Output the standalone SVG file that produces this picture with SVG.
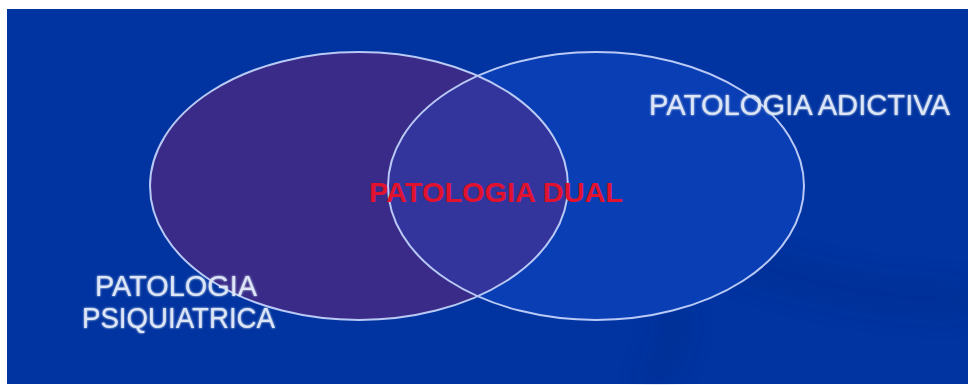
<svg xmlns="http://www.w3.org/2000/svg" width="968" height="385" viewBox="0 0 968 385">
<style>
.outline{fill:none;stroke:#b9c9f5;stroke-width:2}
.lbl{font-family:"Liberation Sans",Arial,sans-serif;font-size:29px;fill:#dce6f6}
.dual{font-family:"Liberation Sans",Arial,sans-serif;font-size:28px;font-weight:bold;fill:#e0122e}
</style>
<defs>
<clipPath id="clipLeft"><ellipse cx="359" cy="186" rx="209" ry="134"/></clipPath>
<filter id="soft" x="-20%" y="-20%" width="140%" height="140%"><feGaussianBlur stdDeviation="14"/></filter>
<filter id="glow" x="-10%" y="-30%" width="120%" height="160%"><feGaussianBlur stdDeviation="1.2" result="b"/><feMerge><feMergeNode in="b"/><feMergeNode in="SourceGraphic"/></feMerge></filter>
</defs>
<rect x="0" y="0" width="968" height="385" fill="#ffffff"/>
<rect x="7" y="9" width="961" height="375" fill="#0134a0"/>
<g id="background-swirl" opacity="0.35" filter="url(#soft)">
<path d="M640 230 C720 250 820 300 968 300" stroke="#00207a" stroke-width="22" fill="none"/>
<path d="M650 385 C690 330 680 300 640 280" stroke="#00207a" stroke-width="18" fill="none"/>
</g>
<g id="node-psiquiatrica">
<ellipse cx="359" cy="186" rx="209" ry="134" fill="#3a2b88"/>
</g>
<g id="node-adictiva">
<ellipse cx="596" cy="186" rx="208" ry="134" fill="#0a3eb4"/>
</g>
<g id="node-dual">
<ellipse cx="596" cy="186" rx="208" ry="134" fill="#34349d" clip-path="url(#clipLeft)"/>
</g>
<g id="connectors">
<ellipse class="outline" cx="359" cy="186" rx="209" ry="134"/>
<ellipse class="outline" cx="596" cy="186" rx="208" ry="134"/>
</g>
<g id="labels">
<text class="lbl" x="649" y="115" textLength="301" lengthAdjust="spacingAndGlyphs" filter="url(#glow)">PATOLOGIA ADICTIVA</text>
<text class="lbl" x="95" y="296" textLength="162" lengthAdjust="spacingAndGlyphs" filter="url(#glow)">PATOLOGIA</text>
<text class="lbl" x="82" y="328" textLength="193" lengthAdjust="spacingAndGlyphs" filter="url(#glow)">PSIQUIATRICA</text>
<text class="dual" x="369" y="202" textLength="254" lengthAdjust="spacingAndGlyphs">PATOLOGIA DUAL</text>
</g>
</svg>
